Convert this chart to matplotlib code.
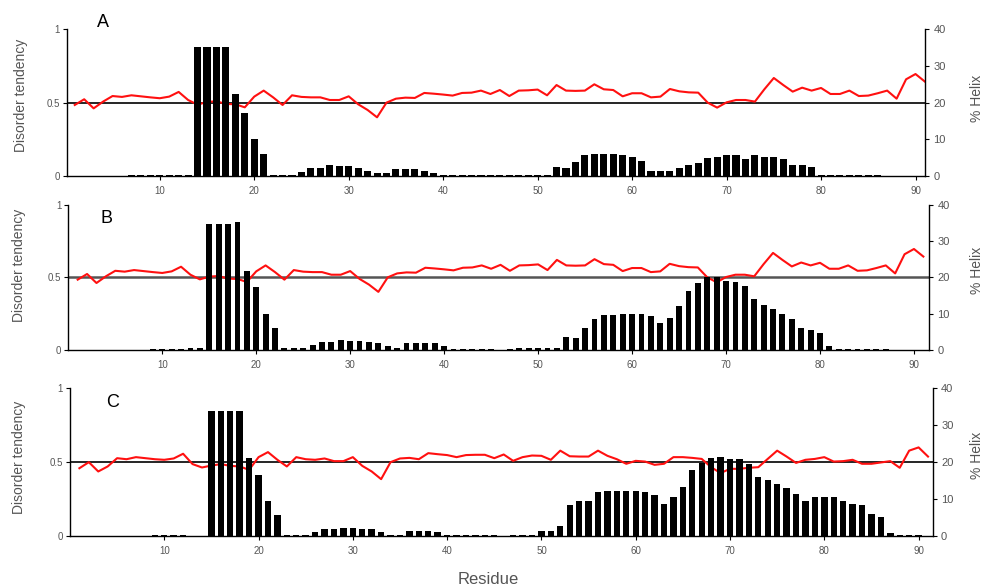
import matplotlib
matplotlib.use("Agg")
import matplotlib.pyplot as plt
import numpy as np

plt.rcParams['font.family'] = ['Liberation Sans', 'DejaVu Sans']

residues = list(range(1, 92))

disorder_AB = [0.484, 0.523, 0.461, 0.507, 0.545, 0.539, 0.55, 0.543, 0.536, 0.530,
               0.541, 0.573, 0.518, 0.486, 0.505, 0.509, 0.491, 0.489, 0.468, 0.541,
               0.582, 0.536, 0.484, 0.55, 0.539, 0.536, 0.536, 0.518, 0.518, 0.543,
               0.489, 0.45, 0.40, 0.50, 0.527, 0.534, 0.532, 0.566, 0.561, 0.555,
               0.548, 0.566, 0.568, 0.582, 0.559, 0.586, 0.545, 0.582, 0.584, 0.589,
               0.55, 0.62, 0.582, 0.58, 0.582, 0.625, 0.591, 0.586, 0.543, 0.564,
               0.564, 0.536, 0.541, 0.593, 0.577, 0.570, 0.568, 0.50, 0.466, 0.502,
               0.518, 0.518, 0.507, 0.591, 0.668, 0.62, 0.575, 0.602, 0.582, 0.60,
               0.559, 0.559, 0.582, 0.545, 0.548, 0.564, 0.582, 0.527, 0.659, 0.695,
               0.643]

disorder_C = [0.459, 0.50, 0.437, 0.471, 0.527, 0.52, 0.534, 0.527, 0.52, 0.516,
              0.525, 0.557, 0.487, 0.464, 0.477, 0.487, 0.475, 0.471, 0.448, 0.534,
              0.568, 0.516, 0.471, 0.534, 0.52, 0.516, 0.525, 0.507, 0.507, 0.534,
              0.475, 0.437, 0.385, 0.50, 0.525, 0.529, 0.52, 0.561, 0.554, 0.548,
              0.534, 0.548, 0.55, 0.55, 0.527, 0.552, 0.509, 0.534, 0.545, 0.543,
              0.516, 0.578, 0.54, 0.538, 0.538, 0.578, 0.543, 0.52, 0.489, 0.509,
              0.504, 0.482, 0.489, 0.534, 0.534, 0.529, 0.522, 0.466, 0.426, 0.455,
              0.455, 0.462, 0.466, 0.522, 0.578, 0.538, 0.495, 0.516, 0.522, 0.534,
              0.504, 0.507, 0.516, 0.489, 0.489, 0.498, 0.507, 0.462, 0.578, 0.60,
              0.538]

helix_A = ([0]*6 + [0.2]*7 + [35.3]*4 + [22.3, 17.3, 10.1, 6.1] + [0.2]*3 +
           [1.1, 2.3, 2.3, 2.9, 2.6, 2.6, 2.3, 1.4, 0.8, 0.8, 1.9, 1.9, 1.9, 1.4, 0.8] +
           [0.2]*12 +
           [2.5, 2.3, 3.7, 5.7, 6.0, 6.0, 6.0, 5.7, 5.2, 4.0, 1.4, 1.4, 1.4, 2.3, 2.9,
            3.5, 4.9, 5.2, 5.7, 5.7, 4.5, 5.7, 5.2, 5.2, 4.5, 2.9, 2.9, 2.5] +
           [0.2]*7 + [0]*5)

helix_B = ([0]*8 + [0.3]*4 + [0.6]*2 + [34.7]*3 + [35.2, 21.7, 17.3, 10.0, 6.0] +
           [0.6]*3 +
           [1.3, 2.1, 2.1, 2.7, 2.4, 2.4, 2.1, 1.8, 1.0, 0.6, 1.8, 1.8, 1.8, 1.8, 1.0] +
           [0.3]*5 + [0] + [0.3] + [0.6]*5 +
           [3.7, 3.3, 6.0, 8.5, 9.7, 9.7, 10.0, 10.0, 10.0, 9.4, 7.3, 8.8, 12.0, 16.1,
            18.4, 20.0, 20.0, 19.1, 18.7, 17.6, 14.1, 12.3, 11.2, 10.0, 8.5, 6.0, 5.6,
            4.8, 1.0] +
           [0.3]*6 + [0]*4)

helix_C = ([0]*8 + [0.3]*4 + [0]*2 + [33.8]*4 + [21.1, 16.5, 9.4, 5.7] + [0.3]*3 +
           [1.1, 2.0, 2.0, 2.3, 2.3, 2.0, 2.0, 1.1, 0.3, 0.3, 1.4, 1.4, 1.4, 1.1] +
           [0.3]*6 + [0] + [0.3]*3 +
           [1.3, 1.3, 2.6, 8.3, 9.4, 9.4, 11.9, 12.3, 12.3, 12.3, 12.3, 11.9, 11.1, 8.8,
            10.5, 13.4, 17.9, 19.9, 21.2, 21.4, 20.9, 20.9, 19.5, 16.0, 15.2, 14.0, 13.1,
            11.4, 9.4, 10.5, 10.5, 10.5, 9.4, 8.8, 8.3, 5.9, 5.1, 0.8] +
           [0.3]*3 + [0])

panel_labels = ['A', 'B', 'C']
x_ticks = [10, 20, 30, 40, 50, 60, 70, 80, 90]
left_ticks = [0, 0.5, 1]
left_ticklabels = ['0', '0.5', '1']
right_ticks = [0, 10, 20, 30, 40]

fig = plt.figure(figsize=(9.84, 5.88), dpi=100)

panels = [
    dict(pos=[0.0678, 0.7007, 0.8722, 0.2495], xlim=(0.15, 91.0), dis=disorder_AB,
         hel=helix_A, bw=0.75, hcol='black', hlw=1.2,
         let=(0.105, 0.961), ylab=(0.021, 0.837), rlab=(0.993, 0.832)),
    dict(pos=[0.0694, 0.4048, 0.8747, 0.2471], xlim=(0.0, 91.6), dis=disorder_AB,
         hel=helix_B, bw=0.62, hcol='#555555', hlw=1.8,
         let=(0.108, 0.628), ylab=(0.019, 0.548), rlab=(0.993, 0.541)),
    dict(pos=[0.0711, 0.0884, 0.8768, 0.2512], xlim=(0.0, 91.5), dis=disorder_C,
         hel=helix_C, bw=0.68, hcol='black', hlw=1.2,
         let=(0.114, 0.316), ylab=(0.019, 0.223), rlab=(0.993, 0.226)),
]

gray = '#555555'
for p, lab in zip(panels, panel_labels):
    ax = fig.add_axes(p['pos'])
    ax2 = ax.twinx()
    ax.set_xlim(*p['xlim'])
    ax.set_ylim(0, 1)
    ax2.set_ylim(0, 40)
    ax.axhline(0.5, color=p['hcol'], lw=p['hlw'], zorder=1)
    ax.plot(residues, p['dis'], color='#ff1010', lw=1.5, zorder=2)
    ax2.bar(residues, p['hel'], width=p['bw'], color='black', zorder=3)
    for a in (ax, ax2):
        a.spines['top'].set_visible(False)
        a.patch.set_visible(False)
    ax.spines['right'].set_visible(False)
    ax2.spines['left'].set_visible(False)
    ax2.spines['bottom'].set_visible(False)
    for s in ('left', 'bottom'):
        ax.spines[s].set_linewidth(1.0)
    ax2.spines['right'].set_linewidth(1.0)
    ax.set_xticks(x_ticks)
    ax.set_yticks(left_ticks)
    ax.set_yticklabels(left_ticklabels)
    ax2.set_yticks(right_ticks)
    ax.tick_params(axis='both', direction='out', length=3, width=0.8,
                   labelsize=7, labelcolor=gray, pad=2)
    ax.tick_params(axis='x', pad=4)
    ax2.tick_params(axis='y', direction='out', length=3, width=0.8,
                    labelsize=8, labelcolor=gray, pad=3)
    fig.text(p['let'][0], p['let'][1], lab, fontsize=13, ha='center', va='center')
    fig.text(p['ylab'][0], p['ylab'][1], 'Disorder tendency', rotation=90,
             fontsize=10, color=gray, ha='center', va='center')
    fig.text(p['rlab'][0], p['rlab'][1], '% Helix', rotation=90,
             fontsize=10, color=gray, ha='center', va='center')

fig.text(0.496, 0.014, 'Residue', fontsize=12, color=gray, ha='center', va='center')

fig.savefig('out.png', dpi=100)
